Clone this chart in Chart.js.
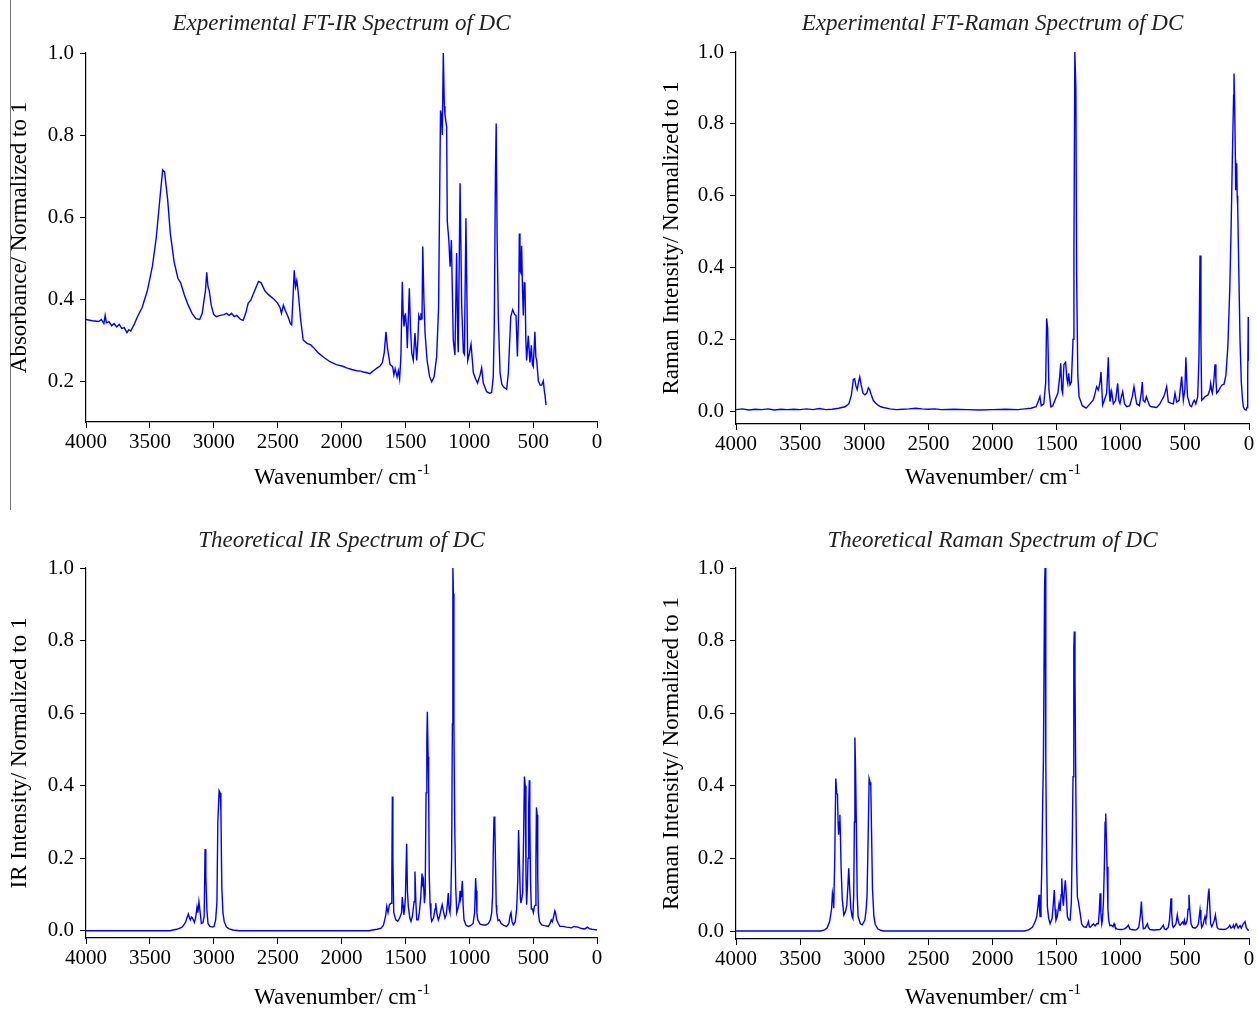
<!DOCTYPE html>
<html>
<head>
<meta charset="utf-8">
<script src="https://cdn.jsdelivr.net/npm/chart.js@4/dist/chart.umd.min.js"></script>
<style>
  body { margin: 0; background: #fff; }
  #wrap { position: relative; width: 1257px; height: 1009px; overflow: hidden; }
  canvas { position: absolute; }
  #edge { position: absolute; left: 10px; top: 0; width: 0; height: 510px; border-left: 1px solid #777; }
</style>
</head>
<body>
<div id="wrap">
  <div id="edge"></div>
  <canvas id="irExp" width="628" height="510" style="left:0;top:0"></canvas>
  <canvas id="ramExp" width="629" height="510" style="left:628px;top:0"></canvas>
  <canvas id="irCalc" width="628" height="499" style="left:0;top:510px"></canvas>
  <canvas id="ramCalc" width="629" height="499" style="left:628px;top:510px"></canvas>
</div>
<script>
const serif = '"Liberation Serif", "Times New Roman", serif';

// axis ticks
const xTicks = [4000, 3500, 3000, 2500, 2000, 1500, 1000, 500, 0];
const yTicksAbs = [0.2, 0.4, 0.6, 0.8, 1.0];
const yTicksNorm = [0.0, 0.2, 0.4, 0.6, 0.8, 1.0];

// experimental FT-IR
const irExpWn = [4000,3950,3900,3880,3860,3850,3840,3820,3800,3780,3760,3740,3720,3700,3680,3665,3650,3620,3600,3560,3520,3480,3450,3420,3400,3385,3360,3340,3310,3280,3260,3230,3200,3170,3140,3110,3090,3075,3065,3055,3045,3035,3020,3000,2980,2950,2920,2900,2880,2860,2840,2820,2790,2770,2750,2730,2710,2680,2650,2630,2600,2570,2530,2500,2480,2470,2455,2440,2420,2400,2390,2380,2370,2360,2350,2340,2320,2300,2270,2240,2220,2180,2140,2090,2040,1990,1960,1920,1880,1850,1829,1800,1777,1750,1720,1700,1680,1665,1652,1640,1620,1600,1590,1580,1565,1555,1545,1535,1524,1517,1511,1500,1490,1485,1469,1460,1450,1438,1425,1411,1402,1395,1385,1378,1370,1364,1355,1346,1330,1310,1294,1275,1255,1240,1234,1225,1219,1211,1203,1195,1190,1177,1172,1160,1150,1140,1125,1112,1099,1090,1086,1072,1059,1046,1038,1026,1012,1000,994,986,968,950,935,915,903,890,864,840,825,812,804,795,789,782,772,759,745,733,707,694,683,675,660,645,634,623,613,608,603,597,590,583,577,570,564,557,551,538,525,514,506,499,486,479,472,459,445,433,420,412,407,399];
const irExpAbs = [0.350,0.347,0.345,0.350,0.340,0.360,0.342,0.345,0.335,0.340,0.332,0.338,0.328,0.330,0.318,0.325,0.322,0.340,0.355,0.380,0.420,0.480,0.550,0.650,0.715,0.710,0.640,0.560,0.490,0.450,0.440,0.410,0.385,0.365,0.352,0.350,0.365,0.400,0.420,0.465,0.430,0.420,0.385,0.362,0.357,0.360,0.362,0.365,0.360,0.365,0.357,0.360,0.350,0.348,0.365,0.390,0.397,0.420,0.443,0.440,0.420,0.410,0.400,0.390,0.378,0.365,0.385,0.372,0.358,0.340,0.337,0.400,0.470,0.430,0.445,0.420,0.350,0.300,0.292,0.288,0.282,0.268,0.258,0.247,0.240,0.236,0.232,0.228,0.225,0.224,0.222,0.220,0.218,0.225,0.232,0.236,0.245,0.270,0.320,0.280,0.240,0.235,0.215,0.230,0.210,0.225,0.205,0.260,0.442,0.360,0.333,0.365,0.330,0.280,0.426,0.330,0.268,0.251,0.317,0.250,0.300,0.360,0.350,0.365,0.350,0.528,0.400,0.317,0.250,0.210,0.198,0.210,0.260,0.380,0.576,0.860,0.850,0.800,1.000,0.870,0.850,0.820,0.590,0.544,0.479,0.544,0.300,0.263,0.512,0.300,0.270,0.682,0.380,0.270,0.265,0.597,0.250,0.265,0.276,0.290,0.220,0.205,0.195,0.215,0.232,0.195,0.174,0.170,0.172,0.210,0.340,0.707,0.828,0.550,0.350,0.220,0.192,0.186,0.180,0.220,0.300,0.357,0.374,0.362,0.360,0.260,0.376,0.560,0.470,0.465,0.530,0.420,0.360,0.440,0.439,0.300,0.250,0.310,0.245,0.287,0.240,0.235,0.320,0.260,0.250,0.200,0.190,0.190,0.200,0.175,0.165,0.141];

// experimental FT-Raman
const ramExpWn = [4000,3950,3900,3850,3800,3750,3700,3650,3600,3550,3500,3450,3400,3350,3300,3250,3200,3150,3120,3100,3085,3075,3065,3055,3045,3035,3025,3010,2995,2980,2968,2958,2945,2930,2910,2890,2870,2850,2800,2750,2700,2650,2600,2550,2500,2450,2400,2300,2200,2100,2000,1900,1800,1750,1700,1660,1640,1630,1620,1600,1585,1578,1570,1560,1545,1530,1513,1490,1475,1468,1460,1453,1443,1430,1420,1413,1406,1396,1385,1372,1365,1358,1350,1344,1335,1325,1300,1270,1240,1214,1200,1188,1175,1162,1154,1141,1128,1110,1097,1090,1084,1071,1058,1040,1024,1015,1006,995,985,970,954,930,910,897,885,876,855,840,832,825,812,800,791,775,760,720,695,681,665,655,642,629,610,590,577,564,545,525,518,512,500,492,485,479,460,448,435,427,415,400,390,382,375,369,355,343,320,305,299,290,286,275,265,258,252,240,225,213,195,180,165,150,140,130,120,117,112,106,104,100,96,92,88,80,70,60,50,44,35,23,15,10,6,3,0];
const ramExpInt = [0.004,0.006,0.003,0.005,0.004,0.006,0.003,0.005,0.004,0.005,0.004,0.006,0.004,0.007,0.004,0.005,0.008,0.012,0.020,0.045,0.088,0.090,0.070,0.060,0.080,0.095,0.075,0.050,0.045,0.050,0.065,0.060,0.045,0.030,0.022,0.016,0.012,0.010,0.006,0.004,0.005,0.006,0.008,0.006,0.005,0.006,0.004,0.005,0.004,0.003,0.004,0.005,0.004,0.006,0.008,0.012,0.030,0.040,0.015,0.020,0.080,0.258,0.230,0.060,0.012,0.015,0.030,0.050,0.100,0.133,0.060,0.050,0.130,0.136,0.090,0.077,0.105,0.073,0.080,0.200,0.445,1.000,0.900,0.380,0.100,0.040,0.015,0.008,0.020,0.031,0.050,0.068,0.059,0.080,0.109,0.017,0.030,0.050,0.150,0.060,0.026,0.054,0.020,0.030,0.077,0.030,0.021,0.040,0.054,0.020,0.012,0.015,0.040,0.068,0.040,0.020,0.015,0.050,0.081,0.030,0.025,0.040,0.030,0.015,0.012,0.010,0.020,0.030,0.040,0.050,0.068,0.025,0.022,0.020,0.050,0.025,0.030,0.096,0.060,0.030,0.060,0.150,0.080,0.040,0.015,0.012,0.025,0.030,0.020,0.040,0.150,0.433,0.200,0.030,0.035,0.040,0.045,0.060,0.077,0.055,0.050,0.080,0.130,0.090,0.050,0.055,0.065,0.072,0.075,0.100,0.180,0.340,0.500,0.700,0.880,0.940,0.860,0.700,0.615,0.680,0.690,0.600,0.570,0.400,0.197,0.080,0.030,0.012,0.005,0.003,0.010,0.100,0.262,0.250,0.140];

// theoretical IR
const irCalcWn = [4000,3340,3320,3290,3260,3245,3230,3220,3210,3199,3190,3183,3175,3168,3160,3152,3142,3131,3124,3116,3108,3097,3085,3075,3068,3062,3054,3045,3030,3010,2998,2985,2975,2968,2958,2950,2944,2937,2928,2918,2900,2880,2850,2800,1780,1760,1720,1690,1672,1655,1646,1636,1625,1612,1606,1602,1598,1591,1575,1560,1545,1530,1524,1518,1513,1506,1500,1490,1484,1477,1465,1456,1445,1432,1425,1418,1411,1400,1391,1380,1370,1365,1359,1351,1345,1338,1332,1328,1322,1318,1313,1307,1300,1294,1280,1268,1262,1255,1242,1232,1220,1212,1200,1190,1180,1172,1164,1158,1151,1145,1138,1132,1128,1124,1120,1114,1106,1098,1090,1085,1078,1072,1067,1064,1058,1054,1048,1041,1025,1007,990,970,958,950,945,940,934,915,890,870,850,835,824,817,811,806,800,795,789,785,775,764,750,730,707,690,680,673,665,655,640,629,620,614,608,600,595,588,582,575,568,562,556,551,545,540,535,530,526,520,514,505,498,490,485,478,474,469,464,459,450,433,410,395,381,370,358,350,342,330,325,316,303,290,264,240,200,180,170,150,120,95,75,60,40,20,0];
const irCalcInt = [0,0,0.002,0.004,0.008,0.011,0.018,0.024,0.035,0.046,0.035,0.030,0.038,0.036,0.030,0.023,0.035,0.065,0.050,0.080,0.055,0.020,0.022,0.040,0.225,0.150,0.060,0.020,0.012,0.010,0.012,0.030,0.080,0.300,0.386,0.380,0.330,0.120,0.050,0.025,0.010,0.005,0.002,0,0,0.002,0.004,0.007,0.015,0.040,0.067,0.050,0.072,0.076,0.150,0.370,0.200,0.050,0.030,0.026,0.035,0.050,0.093,0.070,0.044,0.060,0.090,0.240,0.110,0.067,0.035,0.026,0.040,0.080,0.163,0.080,0.030,0.030,0.050,0.090,0.158,0.130,0.140,0.076,0.100,0.380,0.520,0.604,0.480,0.400,0.150,0.076,0.040,0.026,0.035,0.060,0.076,0.050,0.030,0.040,0.060,0.072,0.050,0.035,0.045,0.070,0.104,0.060,0.050,0.080,0.200,0.570,1.000,0.930,0.570,0.300,0.120,0.050,0.060,0.067,0.080,0.110,0.090,0.095,0.120,0.138,0.070,0.030,0.015,0.012,0.014,0.020,0.050,0.145,0.110,0.050,0.030,0.018,0.016,0.016,0.020,0.030,0.050,0.100,0.240,0.315,0.300,0.200,0.070,0.050,0.028,0.030,0.020,0.015,0.012,0.020,0.043,0.050,0.025,0.016,0.025,0.060,0.140,0.278,0.200,0.090,0.076,0.090,0.104,0.250,0.425,0.400,0.150,0.072,0.120,0.200,0.340,0.415,0.300,0.130,0.060,0.060,0.050,0.067,0.070,0.200,0.340,0.320,0.150,0.050,0.025,0.016,0.014,0.013,0.012,0.018,0.030,0.025,0.035,0.055,0.050,0.030,0.020,0.012,0.012,0.010,0.008,0.012,0.011,0.010,0.006,0.005,0.010,0.006,0.004,0.003,0.002];

// theoretical Raman
const ramCalcWn = [4000,3340,3310,3290,3270,3255,3248,3242,3238,3230,3222,3215,3209,3204,3200,3195,3190,3185,3181,3172,3159,3145,3136,3128,3121,3114,3105,3095,3089,3082,3077,3073,3068,3062,3055,3048,3030,3016,2995,2985,2978,2970,2962,2955,2949,2942,2936,2925,2914,2895,2873,2850,1750,1720,1707,1690,1681,1665,1655,1645,1637,1633,1629,1622,1616,1608,1603,1594,1590,1586,1583,1578,1572,1562,1551,1535,1525,1518,1512,1505,1495,1487,1481,1473,1465,1460,1453,1447,1440,1432,1425,1416,1405,1395,1385,1378,1372,1366,1362,1357,1351,1345,1338,1330,1317,1305,1291,1270,1258,1252,1245,1239,1225,1213,1200,1187,1175,1168,1161,1155,1148,1143,1135,1128,1122,1117,1112,1107,1100,1094,1085,1071,1060,1052,1045,1032,1010,993,970,955,941,930,915,890,876,860,848,839,833,824,810,800,792,785,772,740,694,680,668,660,647,630,620,612,608,603,596,590,578,570,565,559,553,545,538,528,518,510,504,498,491,482,475,468,462,452,440,421,405,395,388,382,375,369,360,350,343,337,330,322,315,312,306,299,290,280,270,262,255,248,239,220,200,180,160,150,140,125,122,115,100,96,85,70,60,45,31,22,10,0];
const ramCalcInt = [0,0,0.003,0.008,0.026,0.060,0.104,0.090,0.063,0.200,0.420,0.380,0.376,0.300,0.265,0.300,0.320,0.250,0.180,0.090,0.044,0.055,0.072,0.120,0.173,0.120,0.063,0.040,0.035,0.100,0.300,0.533,0.450,0.300,0.100,0.040,0.020,0.017,0.030,0.060,0.100,0.250,0.420,0.410,0.400,0.250,0.118,0.040,0.018,0.006,0.002,0,0,0.003,0.006,0.010,0.016,0.028,0.040,0.070,0.100,0.060,0.040,0.080,0.168,0.370,0.470,0.950,1.000,0.800,0.470,0.200,0.067,0.035,0.020,0.035,0.080,0.113,0.060,0.030,0.040,0.060,0.076,0.055,0.100,0.145,0.090,0.070,0.110,0.140,0.100,0.040,0.030,0.030,0.080,0.250,0.425,0.780,0.825,0.700,0.420,0.200,0.094,0.080,0.050,0.020,0.012,0.010,0.020,0.026,0.012,0.010,0.015,0.020,0.014,0.020,0.020,0.050,0.104,0.050,0.020,0.030,0.080,0.177,0.300,0.324,0.250,0.177,0.060,0.030,0.015,0.016,0.012,0.020,0.012,0.006,0.004,0.004,0.006,0.010,0.016,0.006,0.004,0.003,0.004,0.010,0.040,0.081,0.040,0.006,0.008,0.015,0.020,0.010,0.004,0.003,0.004,0.010,0.016,0.006,0.004,0.010,0.030,0.070,0.090,0.050,0.015,0.010,0.015,0.020,0.030,0.044,0.030,0.020,0.016,0.020,0.025,0.020,0.030,0.018,0.020,0.030,0.060,0.100,0.060,0.020,0.010,0.008,0.012,0.020,0.040,0.058,0.030,0.010,0.015,0.030,0.040,0.030,0.040,0.080,0.110,0.117,0.070,0.020,0.012,0.020,0.030,0.044,0.025,0.010,0.006,0.005,0.004,0.005,0.010,0.016,0.008,0.012,0.016,0.008,0.020,0.018,0.008,0.015,0.008,0.020,0.026,0.010,0.003,0.002];

// x axis title with superscript, drawn after the chart
const xTitlePlugin = {
  id: 'xTitle',
  afterDraw(chart, args, opts) {
    const {ctx, chartArea} = chart;
    const main = 'Wavenumber/ cm';
    const sup = '-1';
    ctx.save();
    ctx.fillStyle = '#000';
    ctx.textBaseline = 'alphabetic';
    ctx.textAlign = 'left';
    ctx.font = '23px ' + serif;
    const w1 = ctx.measureText(main).width;
    ctx.font = '15px ' + serif;
    const w2 = ctx.measureText(sup).width;
    const x0 = (chartArea.left + chartArea.right) / 2 - (w1 + w2) / 2;
    ctx.font = '23px ' + serif;
    ctx.fillText(main, x0, opts.y);
    ctx.font = '15px ' + serif;
    ctx.fillText(sup, x0 + w1 + 1, opts.y - 10);
    ctx.restore();
  }
};

function makePanel(id, wn, vals, cfg) {
  const pts = wn.map((w, i) => ({x: w, y: vals[i]}));
  return new Chart(document.getElementById(id), {
    type: 'line',
    data: {
      datasets: [{
        data: pts,
        borderColor: '#0000ff',
        borderWidth: 1.4,
        pointRadius: 0,
        fill: false,
        tension: 0
      }]
    },
    options: {
      responsive: false,
      animation: false,
      devicePixelRatio: 1,
      events: [],
      layout: { padding: { left: 0, right: cfg.padRight, top: 0, bottom: 0 } },
      plugins: {
        legend: { display: false },
        tooltip: { enabled: false },
        title: {
          display: true,
          fullSize: false,
          text: cfg.title,
          color: '#222',
          font: { family: serif, size: 23, style: 'italic', weight: 'normal', lineHeight: 1.2 },
          padding: { top: cfg.titleTop, bottom: cfg.titleBottom }
        },
        xTitle: { y: cfg.xTitleY }
      },
      scales: {
        x: {
          type: 'linear',
          reverse: true,
          min: 0,
          max: 4000,
          afterBuildTicks: s => { s.ticks = xTicks.map(v => ({value: v})); },
          afterFit: s => { s.height = cfg.xHeight; },
          ticks: {
            color: '#000',
            font: { family: serif, size: 21 },
            maxRotation: 0,
            autoSkip: false,
            padding: 2,
            callback: v => String(v)
          },
          grid: { drawOnChartArea: false, drawTicks: true, tickLength: 6, color: '#000' },
          border: { display: true, color: '#000', width: 1.2 }
        },
        y: {
          type: 'linear',
          min: cfg.yMin,
          max: 1,
          afterBuildTicks: s => { s.ticks = cfg.yTicks.map(v => ({value: v})); },
          afterFit: s => { s.width = cfg.yWidth; },
          ticks: {
            color: '#000',
            font: { family: serif, size: 21 },
            padding: 6,
            callback: v => v.toFixed(1)
          },
          grid: { drawOnChartArea: false, drawTicks: true, tickLength: 6, color: '#000' },
          border: { display: true, color: '#000', width: 1.2 },
          title: {
            display: true,
            text: cfg.yTitle,
            color: '#000',
            font: { family: serif, size: 23, lineHeight: 1.2 },
            padding: { top: cfg.yTitlePad, bottom: 0 }
          }
        }
      }
    },
    plugins: [xTitlePlugin]
  });
}

makePanel('irExp', irExpWn, irExpAbs, {
  title: 'Experimental FT-IR Spectrum of DC',
  yTitle: 'Absorbance/ Normalized to 1',
  yTicks: yTicksAbs, yMin: 0.1,
  padRight: 31, yWidth: 86, xHeight: 88,
  titleTop: 10.4, titleBottom: 15.0, yTitlePad: 6, xTitleY: 484
});
makePanel('ramExp', ramExpWn, ramExpInt, {
  title: 'Experimental FT-Raman Spectrum of DC',
  yTitle: 'Raman Intensity/ Normalized to 1',
  yTicks: yTicksNorm, yMin: -0.036,
  padRight: 8, yWidth: 108, xHeight: 86,
  titleTop: 10.4, titleBottom: 14.0, yTitlePad: 30, xTitleY: 484
});
makePanel('irCalc', irCalcWn, irCalcInt, {
  title: 'Theoretical IR Spectrum of DC',
  yTitle: 'IR Intensity/ Normalized to 1',
  yTicks: yTicksNorm, yMin: -0.02,
  padRight: 31, yWidth: 86, xHeight: 71,
  titleTop: 17.4, titleBottom: 13.0, yTitlePad: 6, xTitleY: 494
});
makePanel('ramCalc', ramCalcWn, ramCalcInt, {
  title: 'Theoretical Raman Spectrum of DC',
  yTitle: 'Raman Intensity/ Normalized to 1',
  yTicks: yTicksNorm, yMin: -0.022,
  padRight: 8, yWidth: 108, xHeight: 70,
  titleTop: 17.4, titleBottom: 13.0, yTitlePad: 30, xTitleY: 494
});
</script>
</body>
</html>
